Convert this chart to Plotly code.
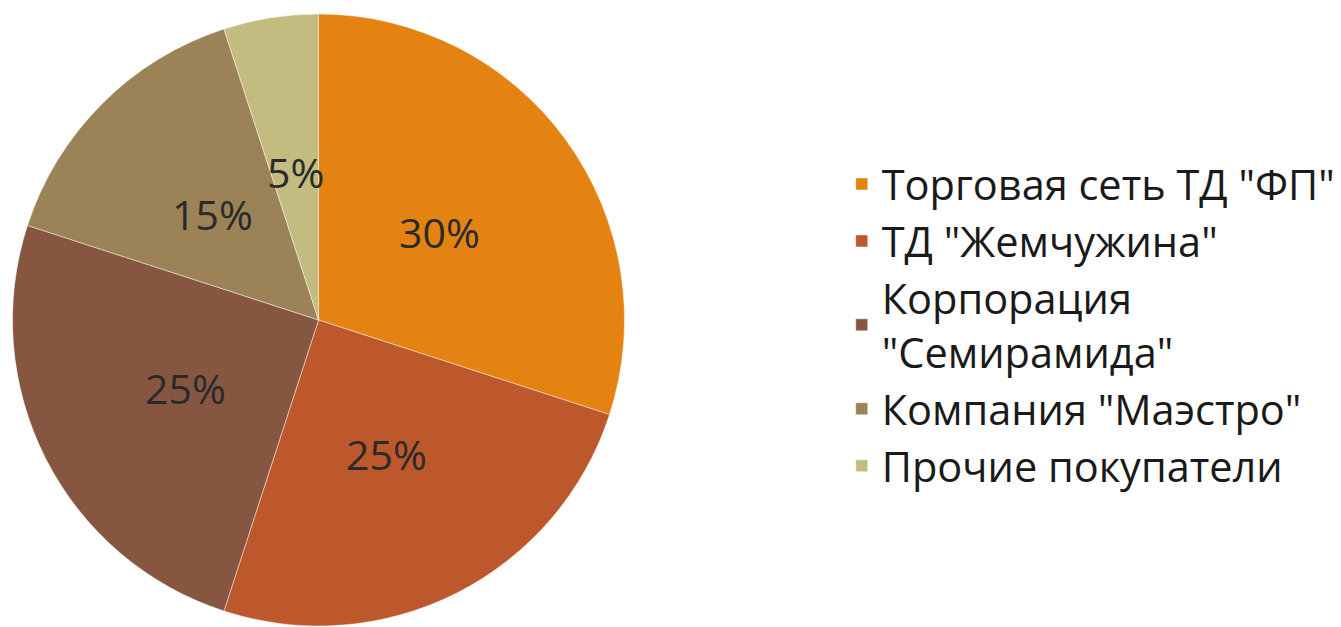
import math
import plotly.graph_objects as go

categories = ['Торговая сеть ТД "ФП"', 'ТД "Жемчужина"', 'Корпорация<br>"Семирамида"',
              'Компания "Маэстро"', 'Прочие покупатели']
values = [30, 25, 25, 15, 5]
colors = ['#E48312', '#BD582C', '#865640', '#9B8357', '#C2BC80']

W, H = 1341, 627
dom_x = [12 / W, 626 / W]
dom_y = [1 / H, 1 - 14 / H]

fig = go.Figure(go.Pie(
    labels=categories,
    values=values,
    sort=False,
    direction='clockwise',
    rotation=0,
    marker=dict(colors=colors, line=dict(color='rgba(255,255,255,0.45)', width=1)),
    textinfo='none',
    domain=dict(x=dom_x, y=dom_y),
    hoverinfo='label+percent',
))

# percentage labels placed at half radius along each slice's mid-angle
cx = (dom_x[0] + dom_x[1]) / 2
cy = (dom_y[0] + dom_y[1]) / 2
r_px = min((dom_x[1] - dom_x[0]) * W, (dom_y[1] - dom_y[0]) * H) / 2
total = sum(values)
cum = 0
for v in values:
    mid = (cum + v / 2) / total * 2 * math.pi
    cum += v
    f = 0.49
    ax = cx + f * r_px * math.sin(mid) / W
    ay = cy + f * r_px * math.cos(mid) / H
    fig.add_annotation(x=ax, y=ay, xref='paper', yref='paper',
                       text=f'{round(v / total * 100)}%', showarrow=False,
                       xanchor='center', yanchor='middle',
                       font=dict(family='Open Sans', size=41, color='#2a2a2a'))

fig.update_layout(
    width=W, height=H,
    margin=dict(l=0, r=0, t=0, b=0),
    paper_bgcolor='white', plot_bgcolor='white',
    showlegend=True,
    legend=dict(x=843 / W, y=1 - 325 / H, xanchor='left', yanchor='middle',
                font=dict(family='Open Sans', size=41.5, color='#1a1a1a'),
                itemwidth=30, traceorder='normal'),
)

fig.write_html('out.html', config={'displayModeBar': False},
               post_script="document.body.style.margin='0';document.body.style.overflow='hidden';")
